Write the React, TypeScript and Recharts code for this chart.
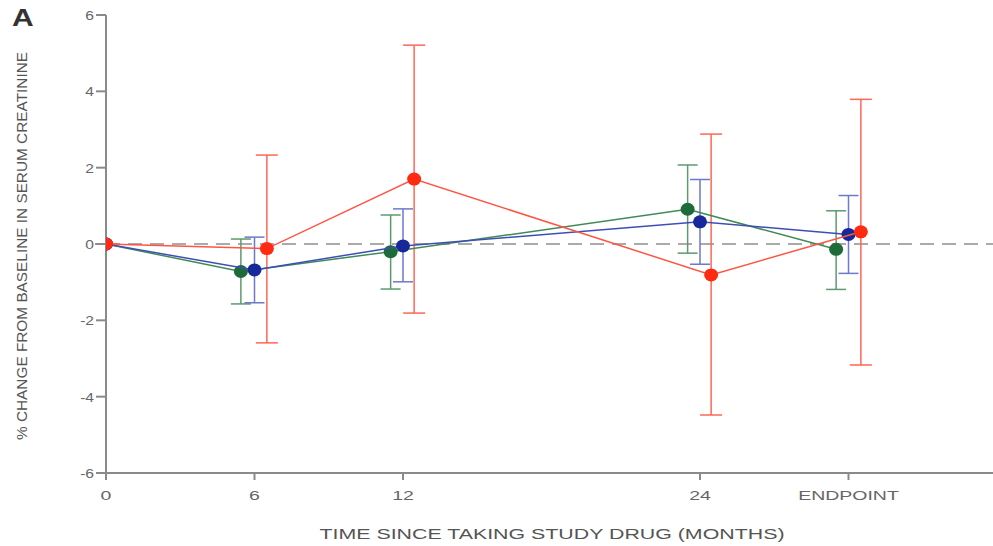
import {
  ScatterChart,
  Scatter,
  XAxis,
  YAxis,
  ErrorBar,
  ReferenceLine,
  Label,
} from "recharts";

// x positions are nudged a little per group so the error bars do not overlap
const greenX = [0, 5.45, 11.5, 23.5, 29.5];
const greenY = [0, -0.72, -0.2, 0.91, -0.14];
const greenLow = [0, -1.57, -1.18, -0.24, -1.19];
const greenHigh = [0, 0.13, 0.76, 2.07, 0.87];

const blueX = [0, 6.0, 12.0, 24.0, 30.0];
const blueY = [0, -0.68, -0.05, 0.58, 0.25];
const blueLow = [0, -1.54, -0.99, -0.53, -0.77];
const blueHigh = [0, 0.18, 0.92, 1.69, 1.27];

const redX = [0, 6.5, 12.45, 24.45, 30.5];
const redY = [0, -0.12, 1.7, -0.81, 0.32];
const redLow = [0, -2.59, -1.81, -4.48, -3.17];
const redHigh = [0, 2.33, 5.21, 2.88, 3.79];

const xTicks = [0, 6, 12, 24, 30];
const xTickLabels = ["0", "6", "12", "24", "ENDPOINT"];
const yTicks = [-6, -4, -2, 0, 2, 4, 6];

const build = (xs: number[], ys: number[], lo: number[], hi: number[]) =>
  xs.map((x, i) => ({
    x,
    y: ys[i],
    err: i === 0 ? [0, 0] : [ys[i] - lo[i], hi[i] - ys[i]],
  }));

const greenData = build(greenX, greenY, greenLow, greenHigh);
const blueData = build(blueX, blueY, blueLow, blueHigh);
const redData = build(redX, redY, redLow, redHigh);

const dot = (fill: string) => (props: any) => {
  const { cx, cy } = props;
  return <ellipse cx={cx} cy={cy} rx={7} ry={6.5} fill={fill} />;
};

const font = "'Liberation Sans', Arial, sans-serif";
const axisColor = "#8a8a8a";

// the original figure is stretched sideways, so the x labels are widened too
const XTick = (props: any) => {
  const { x, y, payload } = props;
  const label = xTickLabels[xTicks.indexOf(payload.value)] ?? String(payload.value);
  return (
    <g transform={`translate(${x},${y + 18})`}>
      <text textAnchor="middle" transform="scale(1.5,1)" fill="#666" fontSize={13} fontFamily={font}>
        {label}
      </text>
    </g>
  );
};

const YTick = (props: any) => {
  const { x, y, payload } = props;
  return (
    <g transform={`translate(${x},${y + 5})`}>
      <text textAnchor="end" transform="scale(1.2,1)" fill="#666" fontSize={13} fontFamily={font}>
        {payload.value}
      </text>
    </g>
  );
};

const XTitle = () => (
  <text
    x={552}
    y={539}
    textAnchor="middle"
    textLength={465}
    lengthAdjust="spacingAndGlyphs"
    fill="#555"
    fontSize={14}
    fontFamily={font}
  >
    TIME SINCE TAKING STUDY DRUG (MONTHS)
  </text>
);

const YTitle = () => (
  <text
    transform="translate(27,246) rotate(-90)"
    textAnchor="middle"
    textLength={388}
    lengthAdjust="spacingAndGlyphs"
    fill="#555"
    fontSize={15}
    fontFamily={font}
  >
    % CHANGE FROM BASELINE IN SERUM CREATININE
  </text>
);

export default function App() {
  return (
    <div style={{ position: "absolute", left: 0, top: 0, width: 993, height: 546, background: "#fff" }}>
      <ScatterChart width={993} height={546} margin={{ top: 15, right: -4, bottom: 0, left: 0 }}>
        <XAxis
          type="number"
          dataKey="x"
          domain={[0, 36]}
          ticks={xTicks}
          stroke={axisColor}
          strokeWidth={2}
          tickSize={7}
          tick={<XTick />}
          height={73}
          allowDataOverflow
        >
          <Label content={<XTitle />} />
        </XAxis>
        <YAxis
          type="number"
          dataKey="y"
          domain={[-6, 6]}
          ticks={yTicks}
          stroke={axisColor}
          strokeWidth={2}
          tickSize={10}
          tick={<YTick />}
          width={106}
        >
          <Label content={<YTitle />} />
        </YAxis>
        <ReferenceLine y={0} stroke="#aaaaaa" strokeWidth={2} strokeDasharray="14 8" />
        <Scatter
          data={greenData}
          line={{ stroke: "#3f8a57", strokeWidth: 1.5 }}
          lineType="joint"
          shape={dot("#1d6b38")}
          isAnimationActive={false}
        >
          <ErrorBar dataKey="err" direction="y" width={10} stroke="#5d9a6d" strokeWidth={1.5} />
        </Scatter>
        <Scatter
          data={blueData}
          line={{ stroke: "#3d4fb4", strokeWidth: 1.5 }}
          lineType="joint"
          shape={dot("#16289a")}
          isAnimationActive={false}
        >
          <ErrorBar dataKey="err" direction="y" width={10} stroke="#6c79cc" strokeWidth={1.5} />
        </Scatter>
        <Scatter
          data={redData}
          line={{ stroke: "#ff5544", strokeWidth: 1.5 }}
          lineType="joint"
          shape={dot("#ff2a12")}
          isAnimationActive={false}
        >
          <ErrorBar dataKey="err" direction="y" width={11} stroke="#ff6655" strokeWidth={1.5} />
        </Scatter>
      </ScatterChart>
      <div
        style={{
          position: "absolute",
          left: 12,
          top: 4,
          fontFamily: font,
          fontWeight: "bold",
          fontSize: 24,
          color: "#333",
          transform: "scaleX(1.25)",
          transformOrigin: "left top",
        }}
      >
        A
      </div>
    </div>
  );
}
